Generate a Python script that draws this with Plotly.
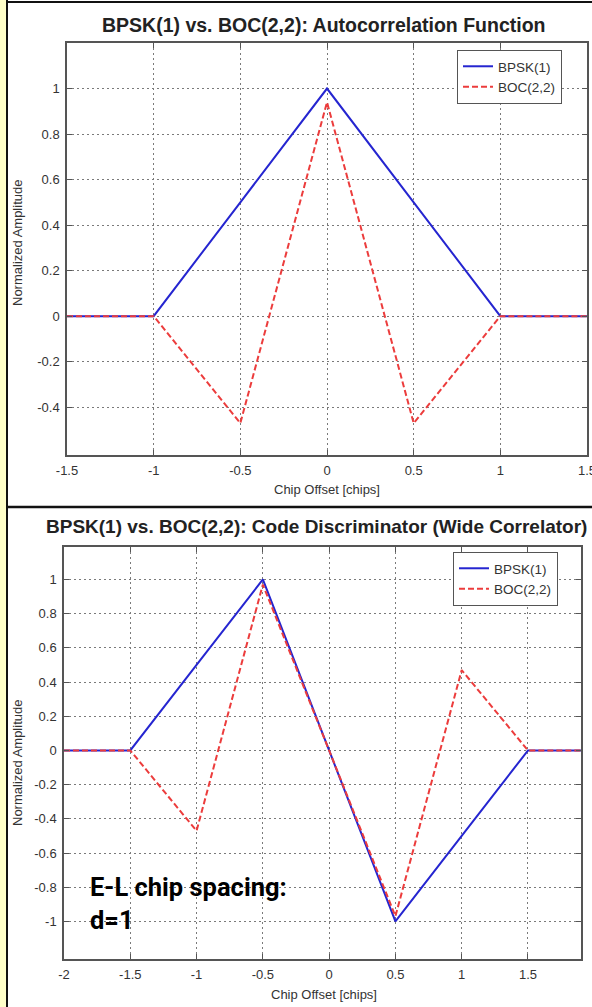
import plotly.graph_objects as go

W, H = 592, 1007

# ---- Data: top panel (autocorrelation) ----
acf_x = [-1.5, -1.0, -0.5, 0.0, 0.5, 1.0, 1.5]
acf_bpsk = [0.0, 0.0, 0.5, 1.0, 0.5, 0.0, 0.0]
acf_boc = [0.0, 0.0, -0.47, 0.94, -0.47, 0.0, 0.0]

# ---- Data: bottom panel (code discriminator, wide correlator) ----
disc_x = [-2.0, -1.5, -1.0, -0.5, 0.0, 0.5, 1.0, 1.5, 1.9]
disc_bpsk = [0.0, 0.0, 0.5, 1.0, 0.0, -1.0, -0.5, 0.0, 0.0]
disc_boc = [0.0, 0.0, -0.47, 0.97, 0.0, -0.97, 0.47, 0.0, 0.0]

# ---- Tick labels ----
top_xticks = [-1.5, -1.0, -0.5, 0.0, 0.5, 1.0, 1.5]
top_xlabels = ["-1.5", "-1", "-0.5", "0", "0.5", "1", "1.5"]
top_yticks = [-0.4, -0.2, 0.0, 0.2, 0.4, 0.6, 0.8, 1.0]
top_ylabels = ["-0.4", "-0.2", "0", "0.2", "0.4", "0.6", "0.8", "1"]
bot_xticks = [-2.0, -1.5, -1.0, -0.5, 0.0, 0.5, 1.0, 1.5]
bot_xlabels = ["-2", "-1.5", "-1", "-0.5", "0", "0.5", "1", "1.5"]
bot_yticks = [-1.0, -0.8, -0.6, -0.4, -0.2, 0.0, 0.2, 0.4, 0.6, 0.8, 1.0]
bot_ylabels = ["-1", "-0.8", "-0.6", "-0.4", "-0.2", "0", "0.2", "0.4", "0.6", "0.8", "1"]

series_names = ["BPSK(1)", "BOC(2,2)"]

BLUE = "#2525d0"
RED = "#ec3c3c"
TXT = "#333333"
FONT = "Liberation Sans, Arial, sans-serif"


def px(x):
    return x / W


def py(y):
    return 1 - y / H


fig = go.Figure()

fig.add_trace(go.Scatter(x=acf_x, y=acf_bpsk, mode="lines", name=series_names[0],
                         line=dict(color=BLUE, width=2), xaxis="x", yaxis="y", legend="legend"))
fig.add_trace(go.Scatter(x=acf_x, y=acf_boc, mode="lines", name=series_names[1],
                         line=dict(color=RED, width=2, dash="6px,3px"), xaxis="x", yaxis="y", legend="legend"))
fig.add_trace(go.Scatter(x=disc_x, y=disc_bpsk, mode="lines", name=series_names[0],
                         line=dict(color=BLUE, width=2), xaxis="x2", yaxis="y2", legend="legend2"))
fig.add_trace(go.Scatter(x=disc_x, y=disc_boc, mode="lines", name=series_names[1],
                         line=dict(color=RED, width=2, dash="6px,3px"), xaxis="x2", yaxis="y2", legend="legend2"))

axis_common = dict(
    showgrid=True, gridcolor="#7a7a7a", griddash="2px,3px", gridwidth=1,
    showline=True, linecolor="#555555", linewidth=1.5, mirror="ticks",
    ticks="inside", ticklen=5, tickcolor="#555555",
    zeroline=False, tickfont=dict(family=FONT, size=13, color=TXT),
    tickmode="array", ticklabelstandoff=3, ticklabeloverflow="allow",
    automargin=False,
)

legend_common = dict(
    xanchor="left", yanchor="top", bgcolor="white", bordercolor="#555555", borderwidth=1,
    font=dict(family=FONT, size=13.5, color=TXT), tracegroupgap=0, itemwidth=30,
    entrywidth=88, entrywidthmode="pixels",
)

fig.update_layout(
    width=W, height=H,
    margin=dict(l=0, r=0, t=0, b=0, autoexpand=False),
    paper_bgcolor="white", plot_bgcolor="white",
    font=dict(family=FONT, color=TXT),
    xaxis=dict(axis_common, domain=[px(67), px(587)], range=[-1.5, 1.5],
               tickvals=top_xticks, ticktext=top_xlabels, anchor="y"),
    yaxis=dict(axis_common, domain=[py(455), py(43)], range=[-0.61, 1.2],
               tickvals=top_yticks, ticktext=top_ylabels, anchor="x"),
    xaxis2=dict(axis_common, domain=[px(64), px(581)], range=[-2.0, 1.9],
                tickvals=bot_xticks, ticktext=bot_xlabels, anchor="y2"),
    yaxis2=dict(axis_common, domain=[py(959), py(547)], range=[-1.22, 1.19],
                tickvals=bot_yticks, ticktext=bot_ylabels, anchor="x2"),
    legend=dict(legend_common, x=px(457), y=py(50)),
    legend2=dict(legend_common, x=px(453), y=py(552)),
    showlegend=True,
)

annotations = [
    dict(text="BPSK(1) vs. BOC(2,2): Autocorrelation Function", x=px(323), y=py(25),
         font=dict(family=FONT, size=19.5, color="#222222", weight="bold")),
    dict(text="BPSK(1) vs. BOC(2,2): Code Discriminator (Wide Correlator)", x=px(316), y=py(526),
         font=dict(family=FONT, size=19, color="#222222", weight="bold")),
    dict(text="Chip Offset [chips]", x=px(327), y=py(489), font=dict(family=FONT, size=13, color=TXT)),
    dict(text="Chip Offset [chips]", x=px(324), y=py(994), font=dict(family=FONT, size=13, color=TXT)),
    dict(text="Normalized Amplitude", x=px(17), y=py(243), textangle=-90,
         font=dict(family=FONT, size=13, color=TXT)),
    dict(text="Normalized Amplitude", x=px(17), y=py(763), textangle=-90,
         font=dict(family=FONT, size=13, color=TXT)),
    dict(text="E-L chip spacing:<br>d=1", x=px(88), y=py(870), xanchor="left", yanchor="top",
         align="left",
         font=dict(family="Roboto, Liberation Sans, sans-serif", size=25.5, color="black", weight="bold")),
]
for a in annotations:
    a.setdefault("xref", "paper")
    a.setdefault("yref", "paper")
    a.setdefault("showarrow", False)
    a.setdefault("xanchor", "center")
    a.setdefault("yanchor", "middle")
    fig.add_annotation(**a)

# page frame: yellow margin strip and black rules
fig.add_shape(type="rect", xref="paper", yref="paper", x0=0, x1=px(6), y0=0, y1=1,
              fillcolor="#ffffc8", line=dict(width=0), layer="below")
fig.add_shape(type="line", xref="paper", yref="paper", x0=px(7), x1=px(7), y0=0, y1=1,
              line=dict(color="#111111", width=2))
fig.add_shape(type="line", xref="paper", yref="paper", x0=px(7), x1=1, y0=py(2), y1=py(2),
              line=dict(color="#111111", width=2))
fig.add_shape(type="line", xref="paper", yref="paper", x0=px(7), x1=1, y0=py(507), y1=py(507),
              line=dict(color="#111111", width=2.5))

fig.write_html("out.html", config={"displayModeBar": False},
               post_script="document.body.style.margin='0';document.body.style.overflow='hidden';")
